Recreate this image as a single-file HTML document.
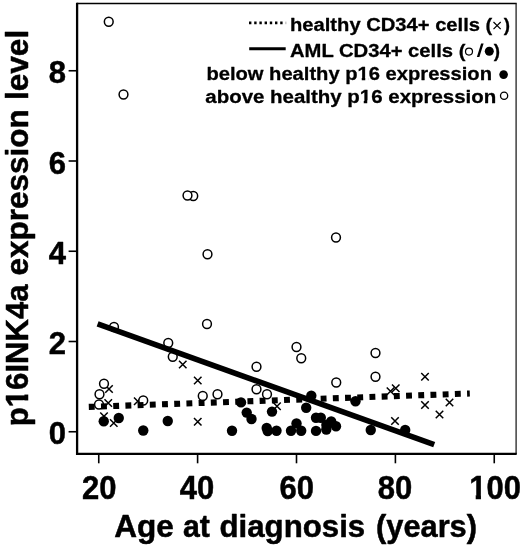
<!DOCTYPE html>
<html><head><meta charset="utf-8"><title>p16INK4a expression vs age</title>
<style>
html,body{margin:0;padding:0;background:#fff;overflow:hidden;}
text{stroke:#000;stroke-width:0.5px;stroke-linejoin:round;}
text.lg{stroke-width:0.3px;}
svg{display:block;filter:blur(0.35px);font-family:"Liberation Sans",sans-serif;font-weight:bold;fill:#000;}
.oc{fill:#fff;stroke:#000;stroke-width:1.5;}
.fc{fill:#000;}
.xm{stroke:#000;stroke-width:1.5;fill:none;}
.ax{stroke:#000;stroke-width:2.3;fill:none;}
.tk{stroke:#000;stroke-width:1.6;fill:none;}
</style></head><body>
<svg width="520" height="546" viewBox="0 0 520 546">
<rect width="520" height="546" fill="#fff"/>
<path d="M77.1,3.4H516.7" fill="none" stroke="#000" stroke-width="1.45"/>
<path d="M516.1,3.4V453.9" fill="none" stroke="#222" stroke-width="1.3"/>
<path class="ax" d="M77.1,2.8V453.9H516.7"/>
<line class="tk" x1="98.75" y1="453.9" x2="98.75" y2="463.29999999999995"/>
<line class="tk" x1="197.6" y1="453.9" x2="197.6" y2="463.29999999999995"/>
<line class="tk" x1="296.5" y1="453.9" x2="296.5" y2="463.29999999999995"/>
<line class="tk" x1="395.4" y1="453.9" x2="395.4" y2="463.29999999999995"/>
<line class="tk" x1="494.25" y1="453.9" x2="494.25" y2="463.29999999999995"/>
<line class="tk" x1="68.6" y1="431.75" x2="77.1" y2="431.75"/>
<line class="tk" x1="68.6" y1="341.5" x2="77.1" y2="341.5"/>
<line class="tk" x1="68.6" y1="251.25" x2="77.1" y2="251.25"/>
<line class="tk" x1="68.6" y1="161" x2="77.1" y2="161"/>
<line class="tk" x1="68.6" y1="70.75" x2="77.1" y2="70.75"/>
<text x="99.25" y="498.5" font-size="33" text-anchor="middle" textLength="34.5" lengthAdjust="spacingAndGlyphs">20</text>
<text x="197.1" y="498.5" font-size="33" text-anchor="middle" textLength="34.5" lengthAdjust="spacingAndGlyphs">40</text>
<text x="296.8" y="498.5" font-size="33" text-anchor="middle" textLength="34.5" lengthAdjust="spacingAndGlyphs">60</text>
<text x="395.09999999999997" y="498.5" font-size="33" text-anchor="middle" textLength="34.5" lengthAdjust="spacingAndGlyphs">80</text>
<text x="495.05" y="498.5" font-size="33" text-anchor="middle" textLength="51.7" lengthAdjust="spacingAndGlyphs">100</text>
<text x="66" y="444.25" font-size="31.7" text-anchor="end" textLength="17.25" lengthAdjust="spacingAndGlyphs">0</text>
<text x="66" y="354.0" font-size="31.7" text-anchor="end" textLength="17.25" lengthAdjust="spacingAndGlyphs">2</text>
<text x="66" y="263.75" font-size="31.7" text-anchor="end" textLength="17.25" lengthAdjust="spacingAndGlyphs">4</text>
<text x="66" y="173.5" font-size="31.7" text-anchor="end" textLength="17.25" lengthAdjust="spacingAndGlyphs">6</text>
<text x="66" y="83.25" font-size="31.7" text-anchor="end" textLength="17.25" lengthAdjust="spacingAndGlyphs">8</text>
<text x="114.3" y="537" font-size="31.1" textLength="59.6" lengthAdjust="spacingAndGlyphs">Age</text>
<text x="183" y="537" font-size="31.1" textLength="26.9" lengthAdjust="spacingAndGlyphs">at</text>
<text x="219.5" y="537" font-size="31.1" textLength="145.7" lengthAdjust="spacingAndGlyphs">diagnosis</text>
<text x="376" y="537" font-size="31.1" textLength="101" lengthAdjust="spacingAndGlyphs">(years)</text>
<text transform="translate(28.2,426.2) rotate(-90)" font-size="31.1">p16INK4a</text>
<text transform="translate(28.2,275.4) rotate(-90)" font-size="31.1" textLength="166" lengthAdjust="spacingAndGlyphs">expression</text>
<text transform="translate(28.2,100.1) rotate(-90)" font-size="31.1" textLength="70.3" lengthAdjust="spacingAndGlyphs">level</text>
<path class="xm" d="M179.0,360.75L186.5,368.25M179.0,368.25L186.5,360.75"/>
<path class="xm" d="M194.0,376.75L201.5,384.25M194.0,384.25L201.5,376.75"/>
<path class="xm" d="M105.25,385.25L112.75,392.75M105.25,392.75L112.75,385.25"/>
<path class="xm" d="M104.5,399.25L112.0,406.75M104.5,406.75L112.0,399.25"/>
<path class="xm" d="M134.0,397.5L141.5,405.0M134.0,405.0L141.5,397.5"/>
<path class="xm" d="M100.25,412.5L107.75,420.0M100.25,420.0L107.75,412.5"/>
<path class="xm" d="M110.0,419.25L117.5,426.75M110.0,426.75L117.5,419.25"/>
<path class="xm" d="M194.0,418.0L201.5,425.5M194.0,425.5L201.5,418.0"/>
<path class="xm" d="M273.25,402.5L280.75,410.0M273.25,410.0L280.75,402.5"/>
<path class="xm" d="M421.25,373.0L428.75,380.5M421.25,380.5L428.75,373.0"/>
<path class="xm" d="M392.0,384.5L399.5,392.0M392.0,392.0L399.5,384.5"/>
<path class="xm" d="M386.75,387.5L394.25,395.0M386.75,395.0L394.25,387.5"/>
<path class="xm" d="M421.25,401.25L428.75,408.75M421.25,408.75L428.75,401.25"/>
<path class="xm" d="M391.25,417.25L398.75,424.75M391.25,424.75L398.75,417.25"/>
<path class="xm" d="M445.75,398.75L453.25,406.25M445.75,406.25L453.25,398.75"/>
<path class="xm" d="M435.75,410.75L443.25,418.25M435.75,418.25L443.25,410.75"/>
<circle class="oc" cx="108.75" cy="21.75" r="4.4"/>
<circle class="oc" cx="123.5" cy="94.5" r="4.4"/>
<circle class="oc" cx="193.25" cy="196" r="4.4"/>
<circle class="oc" cx="187.5" cy="195.5" r="4.4"/>
<circle class="oc" cx="207.5" cy="254.25" r="4.4"/>
<circle class="oc" cx="336" cy="237.5" r="4.4"/>
<circle class="oc" cx="114" cy="327" r="4.4"/>
<circle class="oc" cx="207" cy="324" r="4.4"/>
<circle class="oc" cx="168.25" cy="343" r="4.4"/>
<circle class="oc" cx="172.75" cy="356.75" r="4.4"/>
<circle class="oc" cx="296.5" cy="347" r="4.4"/>
<circle class="oc" cx="301.25" cy="358.25" r="4.4"/>
<circle class="oc" cx="256.5" cy="366.75" r="4.4"/>
<circle class="oc" cx="375.5" cy="353" r="4.4"/>
<circle class="oc" cx="375.5" cy="376.75" r="4.4"/>
<circle class="oc" cx="336.25" cy="382.5" r="4.4"/>
<circle class="oc" cx="104" cy="383.75" r="4.4"/>
<circle class="oc" cx="99.5" cy="394.25" r="4.4"/>
<circle class="oc" cx="99" cy="404.5" r="4.4"/>
<circle class="oc" cx="143.25" cy="400.5" r="4.4"/>
<circle class="oc" cx="202.75" cy="396" r="4.4"/>
<circle class="oc" cx="217.5" cy="394.25" r="4.4"/>
<circle class="oc" cx="267" cy="394.25" r="4.4"/>
<circle class="oc" cx="256.5" cy="389.25" r="4.4"/>
<circle class="fc" cx="103.75" cy="421.25" r="5.2"/>
<circle class="fc" cx="118.75" cy="418" r="5.2"/>
<circle class="fc" cx="143.25" cy="430.5" r="5.2"/>
<circle class="fc" cx="167.75" cy="421" r="5.2"/>
<circle class="fc" cx="232" cy="430.7" r="5.2"/>
<circle class="fc" cx="241" cy="402.4" r="5.2"/>
<circle class="fc" cx="246.7" cy="412.6" r="5.2"/>
<circle class="fc" cx="251.5" cy="419" r="5.2"/>
<circle class="fc" cx="266.7" cy="428" r="5.2"/>
<circle class="fc" cx="267.7" cy="431" r="5.2"/>
<circle class="fc" cx="272" cy="411.6" r="5.2"/>
<circle class="fc" cx="276.5" cy="430.7" r="5.2"/>
<circle class="fc" cx="291" cy="430.7" r="5.2"/>
<circle class="fc" cx="296.5" cy="423.4" r="5.2"/>
<circle class="fc" cx="301.2" cy="430.7" r="5.2"/>
<circle class="fc" cx="306.2" cy="407.8" r="5.2"/>
<circle class="fc" cx="311.3" cy="395.8" r="5.2"/>
<circle class="fc" cx="316" cy="417.7" r="5.2"/>
<circle class="fc" cx="320.8" cy="417.8" r="5.2"/>
<circle class="fc" cx="316" cy="430.9" r="5.2"/>
<circle class="fc" cx="326.4" cy="425" r="5.2"/>
<circle class="fc" cx="326.3" cy="429.5" r="5.2"/>
<circle class="fc" cx="331.2" cy="421.5" r="5.2"/>
<circle class="fc" cx="336" cy="426.2" r="5.2"/>
<circle class="fc" cx="355.5" cy="401.25" r="5.2"/>
<circle class="fc" cx="370.75" cy="430" r="5.2"/>
<circle class="fc" cx="405.2" cy="430" r="5.2"/>
<line x1="88.8" y1="406.9" x2="469.8" y2="393.5" stroke="#000" stroke-width="6.1" stroke-dasharray="5.9 6.31"/>
<line x1="97.6" y1="323.9" x2="434.2" y2="444.6" stroke="#000" stroke-width="5.7"/>
<line x1="249" y1="22.9" x2="283.4" y2="22.9" stroke="#000" stroke-width="2.7" stroke-dasharray="2.4 2.8"/><rect x="285" y="21.6" width="1.6" height="2.6" fill="#000" opacity="0.2"/>
<line x1="249.2" y1="48.7" x2="285.7" y2="48.7" stroke="#000" stroke-width="2.9"/>
<text x="290" y="31.2" font-size="18.8" class="lg" textLength="202.3" lengthAdjust="spacingAndGlyphs">healthy CD34+ cells (</text>
<path class="xm" style="stroke-width:1.2" d="M493.5,22L500.7,29.2M493.5,29.2L500.7,22"/>
<text x="503.8" y="31.2" font-size="18.8" class="lg">)</text>
<text x="290" y="57" font-size="18.8" class="lg" textLength="175.4" lengthAdjust="spacingAndGlyphs">AML CD34+ cells (</text>
<circle class="oc" cx="469" cy="51.6" r="3.5" style="stroke-width:1.2"/>
<path d="M476.9,57.1L479.4,57.1L483.6,43.6L481.1,43.6Z" fill="#000"/>
<circle class="fc" cx="489.3" cy="51.2" r="4.5"/>
<text x="493.7" y="57" font-size="18.8" class="lg">)</text>
<text x="206.4" y="79.9" font-size="18.8" class="lg" textLength="285.6" lengthAdjust="spacingAndGlyphs">below healthy p16 expression</text>
<circle class="fc" cx="503.6" cy="74.6" r="4.3"/>
<text x="205.3" y="102.8" font-size="18.8" class="lg" textLength="291" lengthAdjust="spacingAndGlyphs">above healthy p16 expression</text>
<circle class="oc" cx="504.1" cy="95.7" r="3.6" style="stroke-width:1.3"/>
<rect x="469.5" y="494.5" width="6.2" height="5.5" fill="#fff"/>
<rect x="480.95" y="494.5" width="5.3" height="5.5" fill="#fff"/>
<rect x="23.4" y="388.5" width="6.2" height="6.05" fill="#fff"/>
<rect x="23.4" y="400.45" width="6.2" height="6.0" fill="#fff"/>
<rect x="357.5" y="77.45" width="4.25" height="3.6" fill="#fff"/>
<rect x="365.25" y="77.45" width="3.5" height="3.6" fill="#fff"/>
<rect x="360.4" y="100.45" width="3.35" height="3.6" fill="#fff"/>
<rect x="367.25" y="100.45" width="4.0" height="3.6" fill="#fff"/>
</svg></body></html>
